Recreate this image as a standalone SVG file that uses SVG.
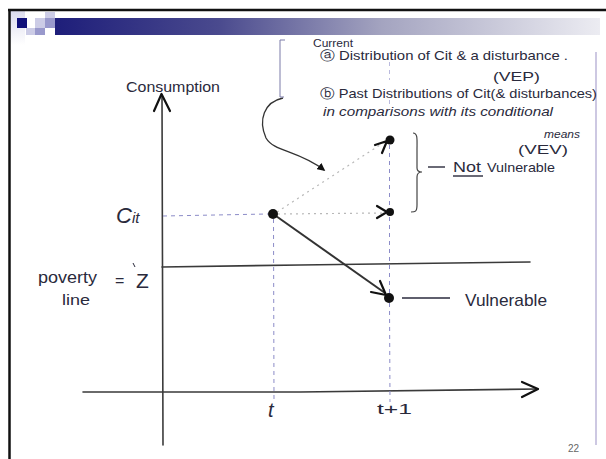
<svg xmlns="http://www.w3.org/2000/svg" width="606" height="459" viewBox="0 0 606 459">
<defs>
<linearGradient id="bar" x1="0" y1="0" x2="1" y2="0">
<stop offset="0" stop-color="#1e1e7a"/>
<stop offset="0.3" stop-color="#4a4a8e"/>
<stop offset="0.6" stop-color="#a4a4c0"/>
<stop offset="1" stop-color="#ececf2"/>
</linearGradient>
<linearGradient id="uline" x1="0" y1="0" x2="1" y2="0">
<stop offset="0" stop-color="#222" stop-opacity="0"/>
<stop offset="0.4" stop-color="#222" stop-opacity="0.9"/>
<stop offset="1" stop-color="#111"/>
</linearGradient>
<linearGradient id="fade" x1="0" y1="0" x2="0" y2="1">
<stop offset="0" stop-color="#dcdcee"/>
<stop offset="1" stop-color="#ffffff"/>
</linearGradient>
<marker id="tri" viewBox="0 0 10 10" refX="8" refY="5" markerWidth="8" markerHeight="8" markerUnits="userSpaceOnUse" orient="auto">
<path d="M0 0 L10 5 L0 10 Z" fill="#111"/>
</marker>
<style>
.hw{font-family:"Liberation Sans","DejaVu Sans",sans-serif;fill:#2a2a3c}
.ax{stroke:#3a3a3a;stroke-width:1.6;fill:none;stroke-linecap:round}
.ah{stroke:#111;stroke-width:2.2;fill:none;stroke-linecap:round;stroke-linejoin:round}
.dot{fill:#111}
.guide{stroke:#8c8cc8;stroke-width:1;stroke-dasharray:4 4;fill:none}
.dots{stroke:#b8b8b8;stroke-width:1.2;stroke-dasharray:2 4;fill:none}
</style>
</defs>
<rect width="606" height="459" fill="#ffffff"/>
<g id="slide-frame">
<rect x="10" y="11" width="15" height="34" fill="url(#fade)"/>
<rect x="55" y="18" width="545" height="17" fill="url(#bar)"/>
<rect x="17" y="18" width="10" height="10" fill="#10107a"/>
<rect x="35" y="18" width="10" height="10" fill="#ccccE6"/>
<rect x="45" y="12" width="10" height="6" fill="#ccccE6"/>
<rect x="45" y="18" width="10" height="10" fill="#9999cc"/>
<rect x="26" y="28" width="9" height="7" fill="#ccccE6"/>
<rect x="35" y="28" width="10" height="7" fill="#9999cc"/>
<line x1="380" y1="34.5" x2="600" y2="34.5" stroke="url(#uline)" stroke-width="1.6"/>
<line x1="8" y1="10" x2="606" y2="10" stroke="#111" stroke-width="2.5"/>
<line x1="9.5" y1="9" x2="9.5" y2="459" stroke="#111" stroke-width="2.5"/>
<line x1="596" y1="52" x2="596" y2="445" stroke="#a098c8" stroke-width="1.5" opacity="0.7"/>
<text x="568" y="452" font-family="Liberation Sans, sans-serif" font-size="10" fill="#666">22</text>
</g>
<g id="axes">
<path class="ax" d="M163 445 L162 95"/>
<path class="ah" d="M154 111 L161.5 94 L170 111" stroke-width="1.8"/>
<path class="ax" d="M83 392 L300 392 L538 389"/>
<path class="ah" d="M522 382 L538 389 L522 397" stroke-width="1.8"/>
<text class="hw" x="126" y="92" font-size="15" textLength="94" lengthAdjust="spacingAndGlyphs">Consumption</text>
<text class="hw" x="268" y="417" font-size="20" font-style="italic">t</text>
<text class="hw" x="377" y="414" font-size="15" textLength="35" lengthAdjust="spacingAndGlyphs">t+1</text>
</g>
<g id="poverty-line">
<path class="ax" d="M162 267 L300 265 L530 262"/>
<text class="hw" x="38" y="283" font-size="16" textLength="59" lengthAdjust="spacingAndGlyphs">poverty</text>
<text class="hw" x="62" y="305" font-size="14" textLength="28" lengthAdjust="spacingAndGlyphs">line</text>
<text class="hw" x="115" y="286" font-size="16">=</text>
<line x1="133" y1="263" x2="135" y2="267" stroke="#2a2a3c" stroke-width="1"/>
<text class="hw" x="136" y="288" font-size="21">Z</text>
</g>
<g id="guides">
<path class="guide" d="M273.5 219 L274 402"/>
<path class="guide" d="M389.5 62 L389.5 80 M389.5 100 L389.5 106" stroke="#c8b0c8" opacity="0.6"/>
<path class="guide" d="M389.5 145 L389.5 208 M389.5 217 L389.5 293 M389.5 303 L390 402" stroke="#c89ab8"/>
<path class="guide" d="M163 216 L268 214" stroke="#9a9aa8" stroke-dasharray="7 5"/>
</g>
<g id="connectors">
<path class="dots" d="M277 212 L386 141"/>
<path class="ah" d="M375 145 L387 141 L382 153"/>
<path class="dots" d="M278 214 L385 213"/>
<path class="ah" d="M377 206 L387 212 L377 218"/>
<path d="M276 216 L385 293" stroke="#333" stroke-width="2" fill="none"/>
<path class="ah" d="M371 292 L386 295 L380 281"/>
<path d="M283 98 C264 102 258 120 266 138 C274 152 298 150 324 170" stroke="#333" stroke-width="1.3" fill="none" marker-end="url(#tri)"/>
</g>
<g id="point-cit">
<circle class="dot" cx="273" cy="214" r="5"/>
<text class="hw" x="116" y="223" font-size="22" font-style="italic">C<tspan font-size="15">it</tspan></text>
</g>
<g id="point-up">
<circle class="dot" cx="390" cy="140" r="4.5"/>
</g>
<g id="point-flat">
<circle class="dot" cx="390" cy="212" r="4"/>
</g>
<g id="not-vulnerable">
<path d="M413 133 C418 133 417 140 417 150 L417 168 C417 172 420 172 422 172 C420 172 417 173 417 177 L417 205 C417 212 415 212 411 212" stroke="#444" stroke-width="1.2" fill="none"/>
<line x1="428" y1="167" x2="445" y2="167" stroke="#2a2a3c" stroke-width="1.4"/>
<text class="hw" x="453" y="172" font-size="14" textLength="28" lengthAdjust="spacingAndGlyphs">Not</text>
<line x1="453" y1="176" x2="483" y2="176" stroke="#2a2a3c" stroke-width="1.4"/>
<text class="hw" x="487" y="172" font-size="13" textLength="68" lengthAdjust="spacingAndGlyphs">Vulnerable</text>
</g>
<g id="point-vulnerable">
<circle class="dot" cx="389" cy="298" r="5"/>
<line x1="402" y1="298" x2="450" y2="298" stroke="#2a2a3c" stroke-width="1.4"/>
<text class="hw" x="465" y="306" font-size="17" textLength="82" lengthAdjust="spacingAndGlyphs">Vulnerable</text>
</g>
<g id="notes">
<path d="M285 40 L280 40 L280 97 L284 97" stroke="#7a7aa8" stroke-width="1" fill="none"/>
<text class="hw" x="313" y="47" font-size="10" textLength="40" lengthAdjust="spacingAndGlyphs">Current</text>
<text class="hw" x="320" y="60" font-size="13" textLength="248" lengthAdjust="spacingAndGlyphs">ⓐ Distribution of Cit &amp; a disturbance .</text>
<text class="hw" x="493" y="81" font-size="12" textLength="47" lengthAdjust="spacingAndGlyphs">(VEP)</text>
<text class="hw" x="320" y="98" font-size="13" textLength="277" lengthAdjust="spacingAndGlyphs">ⓑ Past Distributions of Cit(&amp; disturbances)</text>
<text class="hw" x="323" y="116" font-size="12" font-style="italic" textLength="230" lengthAdjust="spacingAndGlyphs">in comparisons with its conditional</text>
<text class="hw" x="544" y="138" font-size="10" font-style="italic" textLength="36" lengthAdjust="spacingAndGlyphs">means</text>
<text class="hw" x="518" y="154" font-size="12" textLength="50" lengthAdjust="spacingAndGlyphs">(VEV)</text>
</g>
</svg>
